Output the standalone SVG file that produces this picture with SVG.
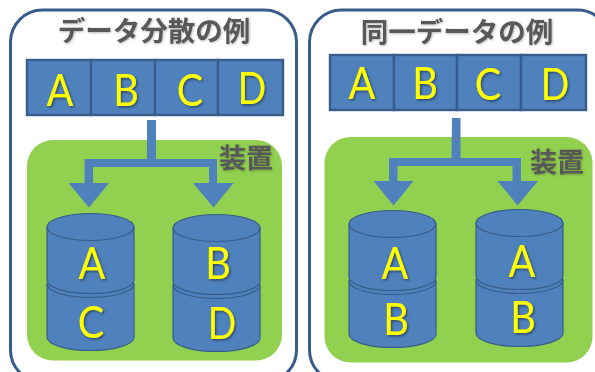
<svg xmlns="http://www.w3.org/2000/svg" width="595" height="372" viewBox="0 0 595 372">
<style>
.panel{fill:#fff;stroke:#385d8a;stroke-width:3}
.green{fill:#92d050}
.cell{fill:#4f81bd;stroke:#385d8a;stroke-width:2.4}
.cyl{fill:#4f81bd;stroke:#385d8a;stroke-width:1.2}
.conn{fill:#4f81bd}
.t{font-family:"Noto Sans CJK JP","Noto Sans",sans-serif;font-weight:700;fill:#595959;text-anchor:middle}
.l{font-family:Lato,"Noto Sans",sans-serif;font-size:44px;fill:#ffff00;text-anchor:middle;filter:url(#sh)}
</style>
<defs>
<filter id="sh" x="-30%" y="-30%" width="160%" height="160%"><feDropShadow dx="1.500" dy="1.500" stdDeviation="1" flood-color="#000" flood-opacity="0.45"/></filter>
<filter id="sg" x="-10%" y="-30%" width="120%" height="160%"><feDropShadow dx="0.800" dy="0.800" stdDeviation="0.800" flood-color="#000" flood-opacity="0.3"/></filter>
<g id="cylshape">
<path class="cyl" d="M0 57v53c0 7.500 19.500 13.500 43.500 13.500s43.500-6 43.500-13.500v-53z"/>
<ellipse class="cyl" cx="43.500" cy="57" rx="43.500" ry="13.500"/>
<path class="cyl" d="M0 0v53c0 7.500 19.500 13.500 43.500 13.500s43.500-6 43.500-13.500v-53z"/>
<ellipse class="cyl" cx="43.500" cy="0" rx="43.500" ry="13.500"/>
</g>
</defs>
<g id="panel-left">
<rect class="panel" x="10.500" y="10" width="286" height="372" rx="32"/>
<text class="t" x="154" y="40.500" font-size="27.500" filter="url(#sg)">データ分散の例</text>
</g>
<g id="panel-right">
<rect class="panel" x="309.500" y="10" width="300" height="372" rx="32"/>
<text class="t" x="457" y="41.500" font-size="27.500" filter="url(#sg)">同一データの例</text>
</g>
<g id="device-left">
<rect class="green" x="27" y="140" width="255" height="220.500" rx="26"/>
<text class="t" x="246" y="168" font-size="27" filter="url(#sg)">装置</text>
</g>
<g id="device-right">
<rect class="green" x="324.500" y="137" width="268" height="225.500" rx="26"/>
<text class="t" x="557" y="172" font-size="27" filter="url(#sg)">装置</text>
</g>
<g id="connectors">
<path class="conn" d="M147 120h9v39h61v24h16.500l-20 24.500-20.500-24.500h16v-16h-116v16h16l-20 24.500-20.500-24.500h16v-24h62.500z"/>
<path class="conn" d="M452 118h8.500v40h60.500v23h17l-20.500 24.500-20-24.500h15v-15h-115v15h16l-20 24.500-20-24.500h15.500v-23h62.500z"/>
</g>
<g id="row-left">
<rect class="cell" x="27" y="60" width="64" height="55"/><text class="l" transform="translate(60 105.500) scale(.9 1)">A</text>
<rect class="cell" x="91" y="60" width="64" height="55"/><text class="l" transform="translate(126 105.500) scale(.9 1)">B</text>
<rect class="cell" x="155" y="60" width="63" height="55"/><text class="l" transform="translate(190 105.500) scale(.9 1)">C</text>
<rect class="cell" x="218" y="60" width="65" height="55"/><text class="l" transform="translate(252 104) scale(.85 1)">D</text>
</g>
<g id="row-right">
<rect class="cell" x="330" y="55" width="64" height="55"/><text class="l" transform="translate(362 98.500) scale(.9 1)">A</text>
<rect class="cell" x="394" y="55" width="63" height="55"/><text class="l" transform="translate(425 98.500) scale(.9 1)">B</text>
<rect class="cell" x="457" y="55" width="64" height="55"/><text class="l" transform="translate(488 99.500) scale(.9 1)">C</text>
<rect class="cell" x="521" y="55" width="65" height="55"/><text class="l" transform="translate(555 99.500) scale(.85 1)">D</text>
</g>
<g id="disk-1">
<use href="#cylshape" x="47" y="227"/>
<text class="l" transform="translate(92 279) scale(.9 1)">A</text><text class="l" transform="translate(91 338) scale(.9 1)">C</text>
</g>
<g id="disk-2">
<use href="#cylshape" x="173" y="228"/>
<text class="l" transform="translate(218 278.500) scale(.9 1)">B</text><text class="l" transform="translate(222 339) scale(.85 1)">D</text>
</g>
<g id="disk-3">
<use href="#cylshape" x="349" y="224"/>
<text class="l" transform="translate(395 279) scale(.9 1)">A</text><text class="l" transform="translate(396 335) scale(.9 1)">B</text>
</g>
<g id="disk-4">
<use href="#cylshape" x="476" y="223"/>
<text class="l" transform="translate(522 277) scale(.9 1)">A</text><text class="l" transform="translate(523 333) scale(.9 1)">B</text>
</g>
</svg>
